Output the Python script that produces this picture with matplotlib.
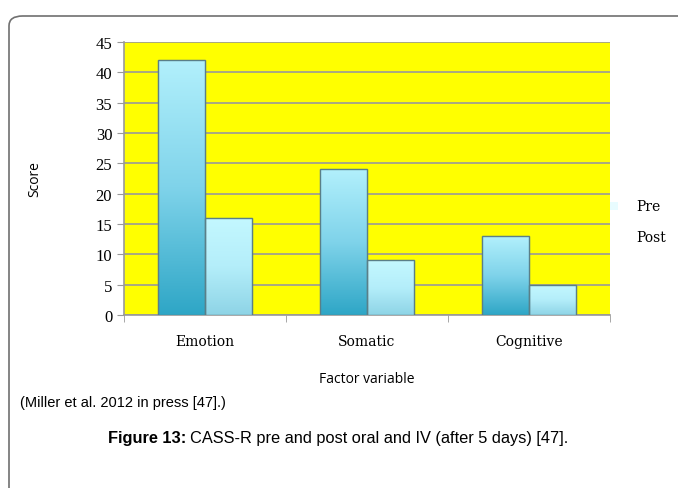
import matplotlib.pyplot as plt
import numpy as np
from matplotlib.patches import FancyBboxPatch
from matplotlib.colors import LinearSegmentedColormap

categories = ["Emotion", "Somatic", "Cognitive"]
pre = [42, 24, 13]
post = [16, 9, 5]
yticks = [0, 5, 10, 15, 20, 25, 30, 35, 40, 45]

fig = plt.figure(figsize=(6.78, 4.89), dpi=100)

# rounded frame around the figure
frame = FancyBboxPatch((9 / 678, -0.2), 1.2, 1 - 17 / 489 + 0.2,
                       boxstyle="round,pad=0,rounding_size=0.02",
                       transform=fig.transFigure, fill=False,
                       edgecolor="#707070", linewidth=1.2)
fig.patches.append(frame)

ax = fig.add_axes([124 / 678, 1 - 316 / 489, 486 / 678, 273 / 489])
ax.set_facecolor("#ffff00")

x = np.arange(len(categories))
w = 0.29
pre_bars = ax.bar(x - w / 2, pre, w, edgecolor="#6a8a90", linewidth=0.8, zorder=3)
post_bars = ax.bar(x + w / 2, post, w, edgecolor="#6a8a90", linewidth=0.8, zorder=3)

pre_cmap = LinearSegmentedColormap.from_list("pre", ["#2ea6c6", "#7fd3ea", "#b2f0fc"])
post_cmap = LinearSegmentedColormap.from_list("post", ["#8ed4e6", "#b4eefa", "#c4f8ff"])
grad = np.linspace(0, 1, 256).reshape(-1, 1)
for bars, cmap in [(pre_bars, pre_cmap), (post_bars, post_cmap)]:
    for b in bars:
        x0, y0 = b.get_x(), b.get_y()
        im = ax.imshow(grad, cmap=cmap, origin="lower", aspect="auto",
                       extent=[x0, x0 + b.get_width(), y0, y0 + b.get_height()],
                       zorder=3.5)
        im.set_clip_path(b)
        ax.add_patch(plt.Rectangle((x0, y0), b.get_width(), b.get_height(),
                                   fill=False, edgecolor="#5a7f88",
                                   linewidth=1.0, zorder=4))

ax.set_xlim(-0.5, 2.5)
ax.set_ylim(0, 45)
ax.set_yticks(yticks)
ax.set_yticklabels([str(v) for v in yticks], fontfamily="Liberation Serif", fontsize=12)
ax.yaxis.grid(True, color="#999999", linewidth=1.2, zorder=1)
ax.set_axisbelow(True)

ax.set_xticks(x)
ax.set_xticklabels(categories, fontfamily="DejaVu Serif", fontsize=10)
ax.tick_params(axis="x", length=0, pad=14)
ax.set_xticks([-0.5, 0.5, 1.5, 2.5], minor=True)
ax.tick_params(axis="x", which="minor", length=5, color="#999999")
ax.tick_params(axis="y", length=5, color="#999999")

for s in ["top", "right"]:
    ax.spines[s].set_visible(False)
for s in ["left", "bottom"]:
    ax.spines[s].set_color("#999999")
    ax.spines[s].set_linewidth(1.2)

ax.set_ylabel("Score", fontfamily="Open Sans", fontsize=10, labelpad=38)
ax.set_xlabel("Factor variable", fontfamily="Open Sans", fontsize=10, labelpad=16)

# legend
fig.text(636 / 678, 1 - 207 / 489, "Pre", fontfamily="DejaVu Serif", fontsize=10, va="center")
fig.text(636 / 678, 1 - 238 / 489, "Post", fontfamily="DejaVu Serif", fontsize=10, va="center")
fig.patches.append(plt.Rectangle((610 / 678, 1 - 211 / 489), 8 / 678, 8 / 489,
                                 transform=fig.transFigure, facecolor="#e8fcff",
                                 edgecolor="none"))
fig.patches.append(plt.Rectangle((610 / 678, 1 - 242 / 489), 8 / 678, 8 / 489,
                                 transform=fig.transFigure, facecolor="white",
                                 edgecolor="none"))

fig.text(20 / 678, 1 - 403 / 489, "(Miller et al. 2012 in press [47].)",
         fontfamily="Liberation Sans", fontsize=10.5, va="center")

# caption: bold part then normal part
t1 = fig.text(108 / 678, 1 - 439 / 489, "Figure 13:", fontfamily="Liberation Sans",
              fontsize=11.8, fontweight="bold", va="center")
fig.canvas.draw()
bb = t1.get_window_extent().transformed(fig.transFigure.inverted())
fig.text(bb.x1 + 4 / 678, 1 - 439 / 489, "CASS-R pre and post oral and IV (after 5 days) [47].",
         fontfamily="Liberation Sans", fontsize=11.8, va="center")

fig.savefig("out.png", dpi=100)
